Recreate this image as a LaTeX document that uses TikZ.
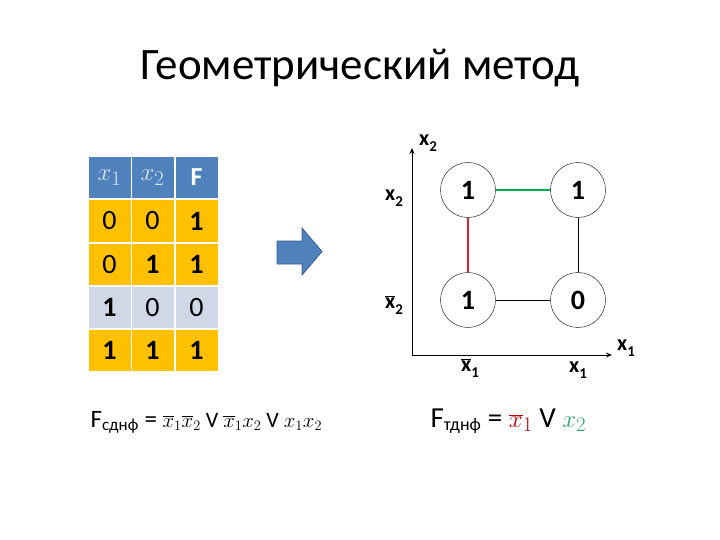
\documentclass[tikz,border=0pt]{standalone}
\usepackage{fontspec}
\setmainfont{Carlito}
\usetikzlibrary{arrows.meta}
\definecolor{hdr}{HTML}{4F81BD}
\definecolor{org}{HTML}{FFC000}
\definecolor{gry}{HTML}{D0D8E8}
\definecolor{arrb}{HTML}{385D8A}
\definecolor{redl}{HTML}{E0202A}
\definecolor{grnl}{HTML}{00B050}
\definecolor{redx}{HTML}{C00000}
\definecolor{grnx}{HTML}{2EA36F}
\definecolor{hx}{HTML}{DCE6F2}
\newcommand\bxx{\ensuremath{\overline{\mbox{\bfseries x}}}}
\newcommand\lsub[1]{\raisebox{-0.3em}{\fontsize{15}{17}\selectfont\bfseries #1}}
\begin{document}
\begin{tikzpicture}[x=1pt,y=-1pt,
  cell/.style={rectangle,minimum width=42pt,minimum height=41pt,inner sep=0pt,font=\fontsize{28}{32}\selectfont},
  hcell/.style={cell,fill=hdr,text=hx,font=\fontsize{30}{34}\selectfont},
  ocell/.style={cell,fill=org},
  gcell/.style={cell,fill=gry},
  vert/.style={circle,draw,thin,minimum size=55pt,inner sep=0pt,font=\fontsize{28}{32}\selectfont\bfseries},
  lab/.style={font=\fontsize{22}{26}\selectfont\bfseries},
  axis/.style={thick,-{Stealth[length=6pt,width=5pt]}},
  eq/.style={anchor=base west}]
\useasboundingbox (0,0) rectangle (720,540);
\node[font=\fontsize{45}{52}\selectfont] (title) at (360,68) {Геометрический метод};
% table
\node[hcell] (h1) at (109.5,177.5) {$x_1$};
\node[hcell] (h2) at (152.5,177.5) {$x_2$};
\node[hcell,text=white,font=\fontsize{26}{30}\selectfont\bfseries] (h3) at (196.5,177.5) {F};
\node[ocell] (a1) at (109.5,221) {0};
\node[ocell] (a2) at (152.5,221) {0};
\node[ocell] (a3) at (196.5,221) {\bfseries 1};
\node[ocell] (b1) at (109.5,264.5) {0};
\node[ocell] (b2) at (152.5,264.5) {\bfseries 1};
\node[ocell] (b3) at (196.5,264.5) {\bfseries 1};
\node[gcell] (c1) at (109.5,307.5) {\bfseries 1};
\node[gcell] (c2) at (152.5,307.5) {0};
\node[gcell] (c3) at (196.5,307.5) {0};
\node[ocell] (d1) at (109.5,350.5) {\bfseries 1};
\node[ocell] (d2) at (152.5,350.5) {\bfseries 1};
\node[ocell] (d3) at (196.5,350.5) {\bfseries 1};
% block arrow
\draw[fill=hdr,draw=arrb,line width=0.8pt] (277,241) -- (302,241) -- (302,228) -- (322,251.5) -- (302,275) -- (302,264) -- (277,264) -- cycle;
% axes
\coordinate (O) at (412,355);
\coordinate (Y) at (412,148);
\coordinate (X) at (612,355);
\draw[axis] (O) -- (Y);
\draw[axis] (O) -- (X);
\node[lab] (ly) at (428,143) {x\lsub{2}};
\node[lab] (lx) at (626,348) {x\lsub{1}};
% vertices
\node[vert] (tl) at (468,190) {1};
\node[vert] (tr) at (578,190) {1};
\node[vert] (bl) at (468,300) {1};
\node[vert] (br) at (578,300) {0};
\draw[grnl,line width=2.2pt] (tl) -- (tr);
\draw[redl,line width=2.2pt] (tl) -- (bl);
\draw[thin] (tr) -- (br);
\draw[thin] (bl) -- (br);
\node[lab] (l2) at (394,198) {x\lsub{2}};
\node[lab] (l2n) at (394,305) {\bxx\lsub{2}};
\node[lab] (l1n) at (470,368) {\bxx\lsub{1}};
\node[lab] (l1) at (578,370) {x\lsub{1}};
% formulas
\node[eq,font=\fontsize{25}{30}\selectfont] (f1) at (87,427) {F$_{\mbox{\fontsize{17}{19}\selectfont сднф}}$ = {\fontsize{22}{26}\selectfont$\overline{x}_1\overline{x}_2$ V $\overline{x}_1x_2$ V $x_1x_2$}};
\node[eq,font=\fontsize{29}{34}\selectfont] (f2) at (427,427) {F$_{\mbox{\fontsize{18}{20}\selectfont тднф}}$ = \textcolor{redx}{$\overline{x}_1$} V \textcolor{grnx}{$x_2$}};
\end{tikzpicture}
\end{document}
